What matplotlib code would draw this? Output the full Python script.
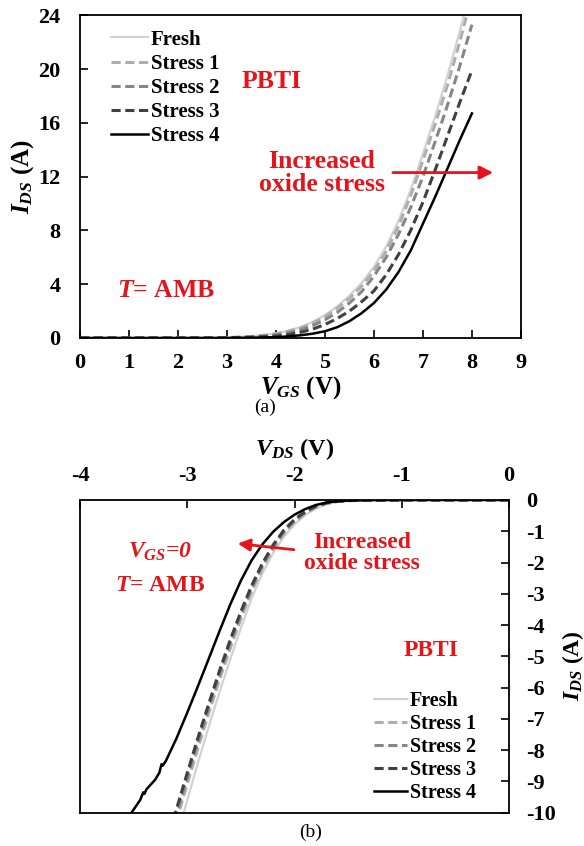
import matplotlib
matplotlib.use('Agg')
import matplotlib.pyplot as plt

# ---- (a) transfer curves, I_DS vs V_GS ----
vgs = [0, 1, 2, 2.5, 3, 3.25, 3.5, 3.75, 4, 4.25, 4.5, 4.75, 5, 5.25, 5.5, 5.75,
       6, 6.25, 6.5, 6.75, 7, 7.25, 7.5, 7.75, 8]
ids_fresh = [0, 0, 0, 0.01, 0.03, 0.07, 0.13, 0.22, 0.35, 0.55, 0.8, 1.2, 1.7, 2.35,
             3.15, 4.1, 5.3, 6.8, 8.7, 11.0, 13.7, 16.5, 19.5, 22.8, 26.3]
ids_s1 = [0, 0, 0, 0.01, 0.03, 0.06, 0.11, 0.19, 0.3, 0.5, 0.74, 1.1, 1.58, 2.2,
          2.95, 3.85, 5.0, 6.45, 8.3, 10.6, 13.2, 15.9, 18.8, 22.0, 25.5]
ids_s2 = [0, 0, 0, 0.01, 0.02, 0.05, 0.08, 0.14, 0.22, 0.38, 0.6, 0.92, 1.35, 1.9,
          2.6, 3.45, 4.6, 6.0, 7.7, 9.7, 12.0, 14.6, 17.3, 20.2, 23.3]
ids_s3 = [0, 0, 0, 0.0, 0.01, 0.03, 0.05, 0.09, 0.14, 0.25, 0.42, 0.66, 1.0, 1.45,
          2.0, 2.7, 3.5, 4.7, 6.2, 8.0, 10.1, 12.5, 15.0, 17.5, 19.9]
ids_s4 = [0, 0, 0, 0.0, 0.0, 0.01, 0.02, 0.04, 0.06, 0.12, 0.2, 0.32, 0.5, 0.8,
          1.25, 1.85, 2.6, 3.6, 4.9, 6.5, 8.5, 10.5, 12.6, 14.7, 16.7]

# ---- (b) output curves, I_DS vs V_DS (V_GS = 0) ----
vds = [0, -0.5, -1.0, -1.2, -1.4, -1.5, -1.6, -1.7, -1.8, -1.9, -2.0, -2.1, -2.2,
       -2.3, -2.4, -2.5, -2.6, -2.7, -2.8, -2.9, -3.0, -3.1, -3.2]
idb_fresh = [0, 0, 0, -0.005, -0.015, -0.03, -0.06, -0.13, -0.27, -0.48, -0.78, -1.18,
             -1.7, -2.35, -3.15, -4.1, -5.1, -6.15, -7.25, -8.4, -9.6, -10.8, -12.0]
idb_s1 = [0, 0, 0, -0.004, -0.012, -0.025, -0.05, -0.11, -0.23, -0.43, -0.7, -1.08,
          -1.57, -2.18, -2.92, -3.8, -4.75, -5.75, -6.82, -7.93, -9.08, -10.25, -11.4]
idb_s2 = [0, 0, 0, -0.004, -0.01, -0.02, -0.045, -0.1, -0.21, -0.4, -0.66, -1.02,
          -1.5, -2.1, -2.82, -3.66, -4.58, -5.58, -6.64, -7.74, -8.88, -10.05, -11.2]
idb_s3 = [0, 0, 0, -0.003, -0.009, -0.018, -0.04, -0.09, -0.19, -0.37, -0.62, -0.97,
          -1.44, -2.03, -2.74, -3.57, -4.48, -5.47, -6.52, -7.6, -8.73, -9.88, -11.05]
vds_s4 = [0, -0.5, -1.0, -1.3, -1.5, -1.6, -1.7, -1.8, -1.9, -2.0, -2.1, -2.2, -2.3,
          -2.4, -2.5, -2.6, -2.7, -2.8, -2.9, -3.0, -3.1, -3.2, -3.23, -3.24, -3.26,
          -3.3, -3.38, -3.4, -3.41, -3.44, -3.48, -3.52, -3.55]
idb_s4 = [0, 0, 0, -0.005, -0.02, -0.04, -0.08, -0.16, -0.29, -0.47, -0.71, -1.02,
          -1.42, -1.93, -2.58, -3.35, -4.2, -5.08, -5.95, -6.8, -7.62, -8.35, -8.5,
          -8.45, -8.72, -8.95, -9.25, -9.4, -9.35, -9.6, -9.8, -10.0, -10.2]

labels = ['Fresh', 'Stress 1', 'Stress 2', 'Stress 3', 'Stress 4']
colors = ['#d2d2d2', '#aeaeae', '#868686', '#404040', '#000000']
styles = ['-', '--', '--', '--', '-']
widths = [1.6, 2.2, 2.2, 2.2, 1.8]
red = '#e5141b'

plt.rcParams['font.family'] = ['Liberation Serif', 'DejaVu Serif']
plt.rcParams['font.weight'] = 'bold'
plt.rcParams['axes.labelweight'] = 'bold'
plt.rcParams['mathtext.fontset'] = 'custom'
plt.rcParams['mathtext.rm'] = 'Liberation Serif:bold'
plt.rcParams['mathtext.it'] = 'Liberation Serif:italic:bold'
plt.rcParams['mathtext.bf'] = 'Liberation Serif:bold'
plt.rcParams['axes.unicode_minus'] = False

fig = plt.figure(figsize=(5.84, 8.46), dpi=100)
ax1 = fig.add_axes([0.137, 0.6005, 0.755, 0.3815])
ax2 = fig.add_axes([0.137, 0.0394, 0.7346, 0.3696])


def draw(ax, xs_list, ys_list):
    for x, y, lab, c, s, w in zip(xs_list, ys_list, labels, colors, styles, widths):
        line, = ax.plot(x, y, color=c, ls=s, lw=w, label=lab)
        if s == '--':
            line.set_dashes((3, 1.5))


# (a)
draw(ax1, [vgs] * 5, [ids_fresh, ids_s1, ids_s2, ids_s3, ids_s4])
ax1.set_xlim(0, 9)
ax1.set_ylim(0, 24)
ax1.set_xticks(range(0, 10))
ax1.set_yticks(range(0, 25, 4))
ax1.tick_params(direction='in', length=6, width=1.2, labelsize=16, top=False, right=False)
ax1.tick_params(axis='x', pad=11)
ax1.tick_params(axis='y', pad=14)
ax1.set_xlabel(r'$V_{GS}$ (V)', fontsize=18, fontweight='bold')
ax1.set_ylabel(r'$I_{DS}$ (A)', fontsize=18, fontweight='bold')
ax1.xaxis.set_label_coords(0.5, -0.112)
ax1.yaxis.set_label_coords(-0.10, 0.5)
ax1.legend(loc='upper left', bbox_to_anchor=(0.07, 0.955), frameon=False,
           fontsize=15, handlelength=1.78, handletextpad=0.15,
           labelspacing=0.2, borderpad=0, borderaxespad=0)
ax1.text(3.92, 19.1, 'PBTI', color=red, fontsize=18.5, ha='center', va='center')
ax1.text(4.93, 12.3, 'Increased\noxide stress', color=red, fontsize=18.5,
         ha='center', va='center', linespacing=1.0)
ax1.annotate('', xy=(8.49, 12.3), xytext=(6.33, 12.3),
             arrowprops=dict(arrowstyle='-|>', color=red, lw=2, mutation_scale=20))
ax1.text(1.76, 3.5, r'$T$= AMB', color=red, fontsize=18.5, ha='center', va='center')

# (b)
draw(ax2, [vds, vds, vds, vds, vds_s4], [idb_fresh, idb_s1, idb_s2, idb_s3, idb_s4])
ax2.set_xlim(-4, 0)
ax2.set_ylim(-10, 0)
ax2.set_xticks(range(-4, 1))
ax2.set_yticks(range(-10, 1))
ax2.xaxis.tick_top()
ax2.yaxis.tick_right()
ax2.xaxis.set_label_position('top')
ax2.yaxis.set_label_position('right')
ax2.tick_params(direction='in', length=6, width=1.2, labelsize=16)
ax2.tick_params(axis='x', pad=10)
ax2.tick_params(axis='y', pad=12)
ax2.set_xlabel(r'$V_{DS}$ (V)', fontsize=17.5, fontweight='bold')
ax2.set_ylabel(r'$I_{DS}$ (A)', fontsize=17, fontweight='bold', rotation=90)
ax2.xaxis.set_label_coords(0.5, 1.145)
ax2.yaxis.set_label_coords(1.118, 0.47)
ax2.legend(loc='lower left', bbox_to_anchor=(0.685, 0.03), frameon=False,
           fontsize=14.5, handlelength=1.65, handletextpad=0.15,
           labelspacing=0.15, borderpad=0, borderaxespad=0)
ax2.text(-0.727, -4.8, 'PBTI', color=red, fontsize=17, ha='center', va='center')
ax2.text(-1.37, -1.7, 'Increased\noxide stress', color=red, fontsize=17,
         ha='center', va='center', linespacing=1.0)
ax2.text(-3.25, -1.66, r'$V_{GS}$=0', color=red, fontsize=17, style='italic',
         ha='center', va='center')
ax2.text(-3.25, -2.72, r'$T$= AMB', color=red, fontsize=17, ha='center', va='center')
ax2.annotate('', xy=(-2.555, -1.385), xytext=(-1.98, -1.6),
             arrowprops=dict(arrowstyle='-|>', color=red, lw=2, mutation_scale=18))

for ax in (ax1, ax2):
    for sp in ax.spines.values():
        sp.set_linewidth(1.3)

fig.text(0.454, 0.518, '(a)', fontsize=14, fontweight='normal', ha='center', va='center')
fig.text(0.531, 0.0165, '(b)', fontsize=14, fontweight='normal', ha='center', va='center')

fig.savefig('out.png', dpi=100)
